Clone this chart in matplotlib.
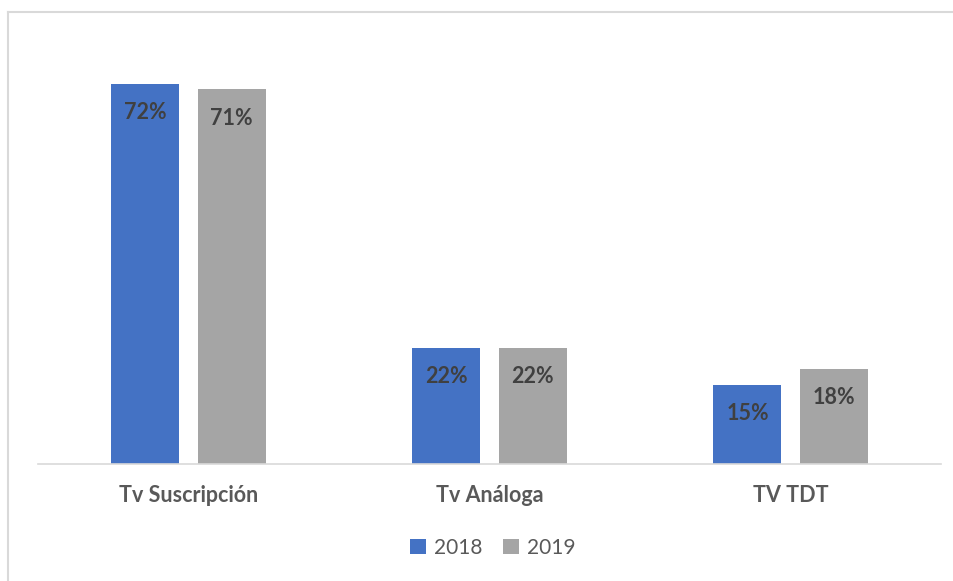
import matplotlib
matplotlib.use("Agg")
import matplotlib.pyplot as plt
from matplotlib.lines import Line2D
import numpy as np

categories = ["Tv Suscripción", "Tv Análoga", "TV TDT"]
series_names = ["2018", "2019"]
values_2018 = [72, 22, 15]
values_2019 = [71, 22, 18]
colors = ["#4472C4", "#A5A5A5"]

plt.rcParams['font.family'] = ['Lato', 'DejaVu Sans']

W, H = 954, 581
fig = plt.figure(figsize=(W / 100, H / 100), dpi=100)
ax = fig.add_axes([38 / W, 1 - 464 / H, (941 - 38) / W, (464 - 41.6) / H])

x = np.arange(len(categories))
bw = 0.226
off = 0.143
b1 = ax.bar(x - off, values_2018, bw, color=colors[0], label=series_names[0])
b2 = ax.bar(x + off, values_2019, bw, color=colors[1], label=series_names[1])

for bars, vals in ((b1, values_2018), (b2, values_2019)):
    for rect, v in zip(bars, vals):
        ax.annotate(f"{v}%", (rect.get_x() + rect.get_width() / 2, v),
                    xytext=(0, -29), textcoords="offset pixels",
                    ha="center", va="center", fontsize=15.5, fontweight="bold",
                    color="#404040")

ax.set_xlim(-0.5, 2.5)
ax.set_ylim(0, 80)
ax.set_yticks([])
ax.set_xticks(x)
ax.set_xticklabels(categories, fontsize=15.5, fontweight="bold", color="#595959")
ax.tick_params(axis="x", length=0, pad=15)
for s in ["top", "right", "left"]:
    ax.spines[s].set_visible(False)
ax.spines["bottom"].set_color("#D9D9D9")
ax.spines["bottom"].set_linewidth(1.2)

leg = fig.legend(handles=[b1, b2], labels=series_names, loc="center",
                 bbox_to_anchor=(493 / W, 1 - 548 / H), ncol=2, frameon=False,
                 fontsize=15, handlelength=0.75, handleheight=0.75,
                 handletextpad=0.4, columnspacing=1.0)
for t in leg.get_texts():
    t.set_color("#595959")

# partial figure border (left and top)
fig.add_artist(Line2D([8.5 / W, 8.5 / W], [0, 1 - 11.5 / H], transform=fig.transFigure,
                      color="#D9D9D9", linewidth=1.5))
fig.add_artist(Line2D([8.5 / W, 1], [1 - 11.5 / H, 1 - 11.5 / H], transform=fig.transFigure,
                      color="#D9D9D9", linewidth=1.5))

fig.savefig("out.png", dpi=100)
